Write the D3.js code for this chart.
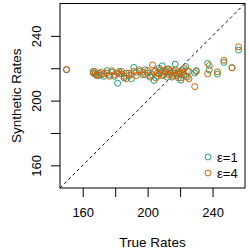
<!DOCTYPE html>
<html>
<head>
<meta charset="utf-8">
<script src="https://cdn.jsdelivr.net/npm/d3@7"></script>
<style>
  body { margin: 0; background: #fff; }
  svg text { font-family: "Liberation Sans", Arial, sans-serif; fill: #000; }
</style>
</head>
<body>
<script>
var width = 249,
    height = 249;

// true rates and the two synthetic versions
var trueRates = [150, 166.5, 167.5, 168.5, 170, 171.5, 173, 175, 176.5, 178, 179.5, 181.5, 182.5, 184, 185.5, 187, 188.5, 190, 191.5, 193, 195, 197, 198.5, 200, 201.5, 203, 204, 205, 206, 207, 208, 209, 210, 211, 212, 213, 214, 215, 216, 217, 218, 219, 220, 220.5, 221.5, 222.5, 223.5, 224.5, 225.5, 229, 230, 237, 238, 243, 247, 252, 256];
var synthEps1 = [219, 218, 216.5, 215.5, 217, 216, 215, 218.5, 216, 217.5, 215, 210.7, 218, 216.5, 214, 217, 215.5, 213.5, 220.5, 217.5, 218, 216, 219, 217, 214.5, 216, 212.5, 218.5, 215, 220, 217.5, 221.5, 216, 218.5, 214.5, 219.5, 217, 215.5, 218, 222.5, 216.5, 214, 217.5, 212.7, 219, 216, 221, 214.5, 218, 217, 218.5, 223, 219, 216.4, 223.6, 220.3, 231.2];
var synthEps4 = [219.3, 217, 218, 216, 215.5, 217.5, 216.5, 217, 215, 218.5, 216, 217, 216.5, 218, 215, 213.5, 217, 216, 218, 215.5, 219, 217.5, 216, 218.5, 215.5, 222, 218, 214, 217, 216.5, 219, 215.5, 218, 217, 219.5, 216, 218.5, 214.5, 217, 219, 215.5, 218, 216.5, 214, 217.5, 220, 215, 218.5, 213.5, 208.6, 218, 216.4, 221.7, 217.8, 224.9, 220.3, 233.2];
var ticks = [160, 180, 200, 220, 240];
var tickLabels = ["160", "", "200", "", "240"];
var legendLabels = ["\u03b5=1", "\u03b5=4"];
var colors = ["#1B9E77", "#D95F02"];

var plotLeft = 60, plotRight = 245, plotTop = 3.5, plotBottom = 188;

var xScale = d3.scaleLinear().domain([146, 260]).range([plotLeft, plotRight]);
var yScale = d3.scaleLinear().domain([146, 260]).range([plotBottom, plotTop]);

var svg = d3.select("body").append("svg")
    .attr("width", width)
    .attr("height", height);

// axes
var xAxis = d3.axisBottom(xScale).tickValues(ticks).tickSize(9).tickPadding(11)
    .tickFormat(function(d, i) { return tickLabels[i]; });
var yAxis = d3.axisLeft(yScale).tickValues(ticks).tickSize(9).tickPadding(5)
    .tickFormat(function(d, i) { return tickLabels[i]; });

var gx = svg.append("g")
    .attr("transform", "translate(0," + plotBottom + ")")
    .call(xAxis);
gx.select(".domain").remove();
gx.selectAll("text").attr("font-size", 13).attr("font-family", "Liberation Sans, Arial, sans-serif");

var gy = svg.append("g")
    .attr("transform", "translate(" + plotLeft + ",0)")
    .call(yAxis);
gy.select(".domain").remove();
gy.selectAll("text")
    .attr("font-size", 13)
    .attr("font-family", "Liberation Sans, Arial, sans-serif")
    .attr("text-anchor", "middle")
    .attr("dy", 0)
    .attr("x", 0)
    .attr("transform", "translate(-19,0) rotate(-90)");

// diagonal
svg.append("line")
    .attr("x1", xScale(146)).attr("y1", yScale(146))
    .attr("x2", xScale(260)).attr("y2", yScale(260))
    .attr("stroke", "#000")
    .attr("stroke-dasharray", "3,3");

// points
var series = [synthEps1, synthEps4];
series.forEach(function(vals, s) {
  svg.append("g").selectAll("circle")
    .data(vals)
    .enter()
    .append("circle")
    .attr("cx", function(d, i) { return xScale(trueRates[i]); })
    .attr("cy", function(d) { return yScale(d); })
    .attr("r", 3)
    .attr("fill", "none")
    .attr("stroke", colors[s])
    .attr("stroke-width", 1);
});

// box
svg.append("rect")
    .attr("x", plotLeft).attr("y", plotTop)
    .attr("width", plotRight - plotLeft).attr("height", plotBottom - plotTop)
    .attr("fill", "none")
    .attr("stroke", "#000");

// axis titles
svg.append("text")
    .attr("x", (plotLeft + plotRight) / 2).attr("y", 246.5)
    .attr("text-anchor", "middle")
    .attr("font-size", 13.5)
    .text("True Rates");

svg.append("text")
    .attr("transform", "translate(21," + ((plotTop + plotBottom) / 2) + ") rotate(-90)")
    .attr("text-anchor", "middle")
    .attr("font-size", 13.5)
    .text("Synthetic Rates");

// legend
var legend = svg.append("g").selectAll("g")
    .data(legendLabels)
    .enter()
    .append("g")
    .attr("transform", function(d, i) { return "translate(208," + (157 + i * 16) + ")"; });
legend.append("circle")
    .attr("r", 3)
    .attr("fill", "none")
    .attr("stroke", function(d, i) { return colors[i]; });
legend.append("text")
    .attr("x", 9)
    .attr("dy", "0.35em")
    .attr("font-size", 13)
    .text(function(d) { return d; });
</script>
</body>
</html>
